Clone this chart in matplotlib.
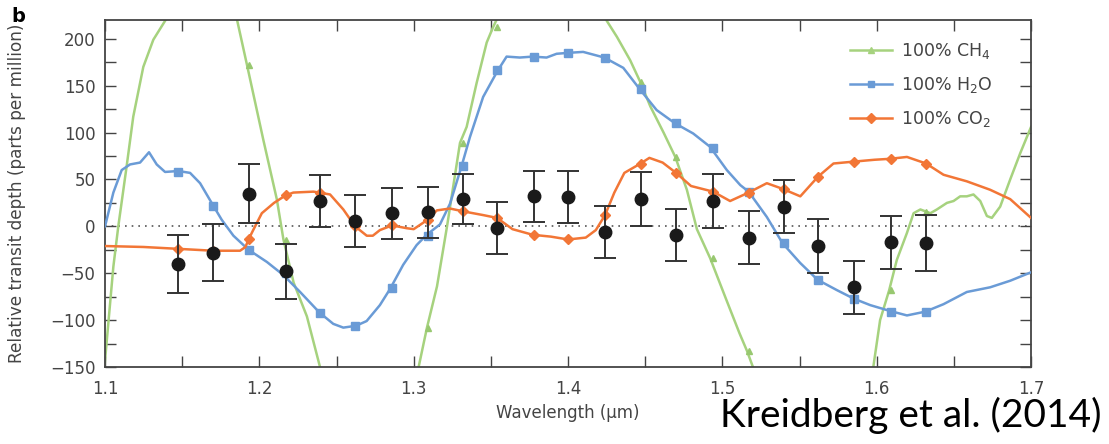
import numpy as np
import matplotlib
matplotlib.use('Agg')
import matplotlib.pyplot as plt
from matplotlib.lines import Line2D
from matplotlib.ticker import MultipleLocator

# binned wavelengths (um) of the measurements
bins = [1.147, 1.170, 1.193, 1.217, 1.239, 1.262, 1.286, 1.309, 1.332, 1.354, 1.378,
        1.400, 1.424, 1.447, 1.470, 1.494, 1.517, 1.540, 1.562, 1.585, 1.609, 1.632]
depth = [-40, -28, 35, -48, 27, 6, 14, 15, 29, -2, 32,
         31, -6, 29, -9, 27, -12, 21, -21, -65, -17, -18]
err = [31, 30, 31, 29, 28, 27.5, 27, 27, 27, 28, 27.5,
       27.5, 27.5, 29, 28, 28.5, 28.5, 28, 28.5, 28.5, 28.5, 30]

# model curves (wavelength, ppm)
h2o_wl = [1.100, 1.1054, 1.1108, 1.1162, 1.1227, 1.1285, 1.1335, 1.1389, 1.1475, 1.1551,
          1.1616, 1.1698, 1.1756, 1.1832, 1.193, 1.2049, 1.2156, 1.2264, 1.239, 1.2479,
          1.2544, 1.2627, 1.2695, 1.2781, 1.2846, 1.2932, 1.3019, 1.3084, 1.317, 1.3235,
          1.331, 1.3364, 1.345, 1.3544, 1.3602, 1.3688, 1.3771, 1.3861, 1.3926, 1.4001,
          1.4098, 1.4235, 1.4358, 1.4466, 1.4574, 1.4692, 1.4811, 1.4919, 1.5029, 1.5116,
          1.517, 1.5288, 1.539, 1.5504, 1.5617, 1.5742, 1.585, 1.5958, 1.6081, 1.6196,
          1.6314, 1.6433, 1.6584, 1.6735, 1.6865, 1.700]
h2o_ppm = [0, 36, 60, 66, 68, 79, 66, 58, 59, 57,
           46, 23, 7, -10, -25, -38, -52, -70, -92, -104,
           -108, -106, -101, -84, -67, -41, -20, -9, 2, 24,
           64, 95, 138, 166, 181, 180, 181, 180, 184, 185,
           186, 180, 169, 146, 124, 110, 99, 85, 60, 44,
           37, 10, -18, -39, -57, -68, -77, -84, -90, -95,
           -91, -83, -70, -65, -58, -49]
h2o_bins = [58, 22, -25, -50, -92, -106, -66, -10, 64, 167, 181,
            185, 180, 146, 110, 84, 37, -18, -57, -78, -91, -91]

co2_wl = [1.100, 1.1248, 1.1475, 1.170, 1.1875, 1.191, 1.193, 1.196, 1.2016, 1.2095,
          1.217, 1.222, 1.235, 1.2458, 1.2544, 1.262, 1.2696, 1.2735, 1.2781, 1.286,
          1.2955, 1.300, 1.309, 1.315, 1.3235, 1.332, 1.345, 1.354, 1.364, 1.3771,
          1.389, 1.400, 1.4115, 1.418, 1.424, 1.430, 1.4365, 1.447, 1.4527, 1.4613,
          1.470, 1.4797, 1.494, 1.505, 1.517, 1.5288, 1.539, 1.5505, 1.562, 1.572,
          1.585, 1.5986, 1.6085, 1.6196, 1.632, 1.6433, 1.6584, 1.6735, 1.6865, 1.700]
co2_ppm = [-21, -22, -24, -26, -26, -22, -14, -4, 14, 25,
           33, 36, 37, 34, 18, 0, -10, -10, -4, 1,
           -2, -3, 7, 17, 19, 16, 12, 9, -3, -9,
           -11, -14, -12, -4, 12, 36, 57, 67, 73, 68,
           57, 43, 37, 27, 36, 46, 40, 32, 53, 67,
           69, 71, 72, 74, 67, 55, 48, 39, 29, 9]
co2_bins = [-24, -26, -14, 33, 36, 0, 1, 7, 16, 9, -9,
            -14, 12, 67, 57, 37, 36, 40, 53, 69, 72, 67]

ch4_wl = [1.098, 1.1054, 1.1086, 1.114, 1.1183, 1.1248, 1.1313, 1.140, 1.150, 1.162,
          1.175, 1.1853, 1.192, 1.2026, 1.2113, 1.2156, 1.2222, 1.2308, 1.2393, 1.250,
          1.290, 1.3032, 1.3086, 1.3151, 1.3216, 1.330, 1.3343, 1.3408, 1.3473, 1.3516,
          1.3548, 1.365, 1.390, 1.415, 1.424, 1.4317, 1.4403, 1.4468, 1.4533, 1.4619,
          1.4695, 1.477, 1.4835, 1.4921, 1.5025, 1.5111, 1.516, 1.5198, 1.530, 1.590,
          1.5978, 1.6022, 1.6081, 1.613, 1.6196, 1.6239, 1.6283, 1.6348, 1.639, 1.6455,
          1.6498, 1.6541, 1.6584, 1.6627, 1.6671, 1.6714, 1.6746, 1.680, 1.6865, 1.693, 1.700]
ch4_ppm = [-180, -43, 0, 64, 117, 170, 199, 222, 260, 290,
           280, 222, 172, 92, 29, -14, -60, -96, -150, -200,
           -220, -150, -108, -64, 0, 89, 106, 153, 196, 213,
           224, 270, 300, 250, 222, 202, 177, 154, 128, 100,
           74, 39, -3, -34, -78, -114, -133, -150, -200, -200,
           -150, -100, -68, -36, -7, 14, 18, 14, 18, 25,
           27, 32, 32, 34, 27, 11, 9, 21, 50, 78, 106]
ch4_bins = [280, 285, 172, -15, -170, -230, -230, -108, 89, 213, 290,
            300, 260, 154, 74, -34, -133, -200, -200, -200, -68, 15]

c_h2o = '#6a9bd6'
c_co2 = '#f27636'
c_ch4 = '#a6d27e'
c_txt = '#444444'

fig = plt.figure(figsize=(11.09, 4.44), dpi=100)
ax = fig.add_axes([0.0947, 0.1734, 0.835, 0.7815])

ax.axhline(0, color='#555555', linestyle=(0, (1, 3)), linewidth=1.2, zorder=1)

ax.plot(ch4_wl, ch4_ppm, color=c_ch4, linewidth=1.8, zorder=2)
ax.plot(bins, ch4_bins, linestyle='none', marker='^', markersize=5, color='#98c870', zorder=2)
ax.plot(h2o_wl, h2o_ppm, color=c_h2o, linewidth=1.8, zorder=3)
ax.plot(bins, h2o_bins, linestyle='none', marker='s', markersize=6, color=c_h2o, zorder=3)
ax.plot(co2_wl, co2_ppm, color=c_co2, linewidth=1.8, zorder=4)
ax.plot(bins, co2_bins, linestyle='none', marker='D', markersize=5.5, color=c_co2, zorder=4)

ax.errorbar(bins, depth, yerr=err, fmt='o', color='#1a1a1a', ecolor='#333333',
            markersize=9, elinewidth=1.4, capsize=8, capthick=1.4, zorder=5)

ax.set_xlim(1.1, 1.7)
ax.set_ylim(-150, 220)
ax.xaxis.set_major_locator(MultipleLocator(0.1))
ax.xaxis.set_minor_locator(MultipleLocator(0.05))
ax.yaxis.set_major_locator(MultipleLocator(50))
ax.yaxis.set_minor_locator(MultipleLocator(25))
ax.tick_params(which='both', direction='in', top=True, right=True,
               colors=c_txt, labelcolor=c_txt, labelsize=12, length=8, width=1.0)
ax.tick_params(axis='x', pad=9)
ax.tick_params(axis='y', pad=7)
for s in ax.spines.values():
    s.set_color(c_txt)
    s.set_linewidth(1.3)

ax.set_xlabel('Wavelength (\u00b5m)', fontsize=12, color=c_txt, labelpad=5)
ax.set_ylabel('Relative transit depth (parts per million)', fontsize=12.2, color=c_txt)
ax.yaxis.set_label_coords(-0.085, 0.5)

handles = [Line2D([], [], color=c_ch4, marker='^', markersize=4, linewidth=1.8),
           Line2D([], [], color=c_h2o, marker='s', markersize=5, linewidth=1.8),
           Line2D([], [], color=c_co2, marker='D', markersize=5, linewidth=1.8)]
labels = ['100% CH$_4$', '100% H$_2$O', '100% CO$_2$']
leg = ax.legend(handles, labels, loc='upper right', frameon=False, fontsize=12.5,
                bbox_to_anchor=(0.975, 0.985), handlelength=2.4, handletextpad=0.5,
                labelspacing=0.8)
for t in leg.get_texts():
    t.set_color(c_txt)

fig.text(0.010, 0.985, 'b', fontsize=14, fontweight='bold', va='top', ha='left')
fig.text(0.993, 0.022, 'Kreidberg et al. (2014)', fontsize=28, ha='right', va='bottom',
         family=['Lato', 'DejaVu Sans'])

fig.savefig('out.png', dpi=100)
